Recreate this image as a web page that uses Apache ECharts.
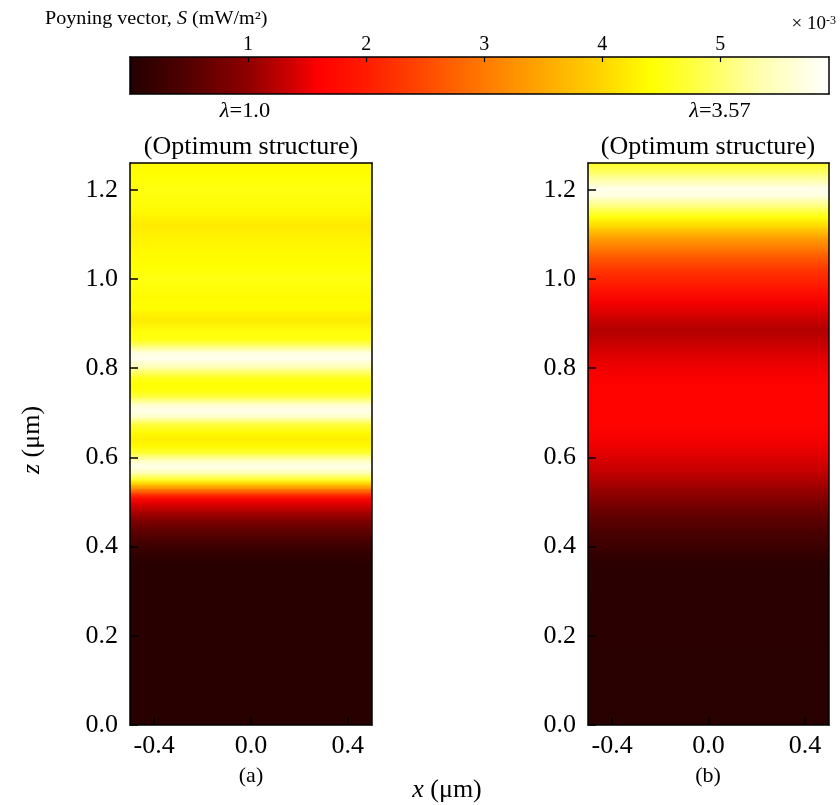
<!DOCTYPE html>
<html><head><meta charset="utf-8">
<script src="https://cdn.jsdelivr.net/npm/echarts@6/dist/echarts.min.js"></script>
<style>html,body{margin:0;padding:0;background:#fff}#c{width:840px;height:805px}</style>
</head><body><div id="c"></div>
<script>
// Colormap (value in 1e-3 mW/m^2 -> colour)
const cmapValues = [0.0, 0.5, 1.0, 1.4, 1.6, 2.0, 2.5, 3.0, 3.5, 4.0, 4.4, 4.8, 5.3, 5.92];
const cmapColors = ['#230000', '#540000', '#8e0000', '#d60000', '#ff0000', '#ff1c00', '#ff4a00', '#ff7a00', '#ffa800', '#ffd500', '#ffff00', '#ffff45', '#ffffa8', '#ffffff'];
const cbTicks = [1, 2, 3, 4, 5];
const xTicks = [-0.4, 0.0, 0.4];
const zTicksMax = 1.2;

// Panel (a): lambda = 1.0, Poynting vector profile along z
const zA = [0.00, 0.36, 0.38, 0.40, 0.42, 0.44, 0.46, 0.48, 0.50, 0.51, 0.52, 0.53, 0.54, 0.55, 0.565, 0.58, 0.595, 0.61, 0.625, 0.64, 0.655, 0.675, 0.69, 0.705, 0.72, 0.735, 0.75, 0.765, 0.78, 0.80, 0.82, 0.835, 0.85, 0.865, 0.88, 0.91, 0.935, 0.96, 0.98, 1.00, 1.03, 1.06, 1.09, 1.12, 1.15, 1.20, 1.23, 1.26];
const sA = [0.05, 0.06, 0.12, 0.25, 0.45, 0.65, 0.90, 1.20, 1.50, 1.80, 2.50, 3.20, 3.90, 4.60, 5.40, 5.80, 5.40, 4.70, 4.35, 4.25, 4.35, 4.80, 5.50, 5.80, 5.50, 4.80, 4.45, 4.40, 4.60, 5.30, 5.80, 5.70, 5.00, 4.50, 4.45, 4.20, 4.40, 4.35, 4.45, 4.50, 4.40, 4.35, 4.30, 4.20, 4.35, 4.50, 4.40, 4.35];

// Panel (b): lambda = 3.57
const zB = [0.00, 0.35, 0.372, 0.398, 0.432, 0.467, 0.50, 0.535, 0.569, 0.604, 0.638, 0.672, 0.758, 0.792, 0.826, 0.86, 0.886, 0.912, 0.946, 0.98, 1.023, 1.057, 1.092, 1.117, 1.139, 1.16, 1.186, 1.203, 1.237, 1.26];
const sB = [0.06, 0.07, 0.12, 0.25, 0.40, 0.60, 0.85, 1.10, 1.30, 1.45, 1.55, 1.65, 1.65, 1.55, 1.45, 1.30, 1.20, 1.35, 1.55, 1.90, 2.30, 2.80, 3.40, 4.00, 4.45, 5.00, 5.70, 5.80, 5.00, 4.60];

const X_MIN = -0.5, X_MAX = 0.5, Z_MAX = 1.26, CB_MAX = 5.92;
const FONT = '"Liberation Serif", "Times New Roman", serif';

function hex(h) { return [1, 3, 5].map(i => parseInt(h.substr(i, 2), 16)); }
function cmap(v) {
  if (v <= cmapValues[0]) return cmapColors[0];
  const n = cmapValues.length;
  if (v >= cmapValues[n - 1]) return cmapColors[n - 1];
  let i = 0;
  while (cmapValues[i + 1] < v) i++;
  const t = (v - cmapValues[i]) / (cmapValues[i + 1] - cmapValues[i]);
  const a = hex(cmapColors[i]), b = hex(cmapColors[i + 1]);
  return 'rgb(' + a.map((c, k) => Math.round(c + (b[k] - c) * t)).join(',') + ')';
}

function panelSeries(zs, vs, axisIdx) {
  return {
    type: 'custom', xAxisIndex: axisIdx, yAxisIndex: axisIdx, clip: true, silent: true,
    data: zs.slice(0, -1).map((z, i) => [z, zs[i + 1], vs[i], vs[i + 1]]),
    renderItem: function (params, api) {
      const a = api.coord([X_MIN, api.value(0)]);
      const b = api.coord([X_MAX, api.value(1)]);
      return {
        type: 'rect',
        shape: { x: a[0], y: b[1] - 0.5, width: b[0] - a[0], height: a[1] - b[1] + 1 },
        style: { fill: new echarts.graphic.LinearGradient(0, 0, 0, 1, [
          { offset: 0, color: cmap(api.value(3)) }, { offset: 1, color: cmap(api.value(2)) }]) }
      };
    }
  };
}

const cbSeries = {
  type: 'custom', xAxisIndex: 0, yAxisIndex: 0, clip: true, silent: true,
  data: cmapValues.slice(0, -1).map((v, i) => [v, cmapValues[i + 1]]),
  renderItem: function (params, api) {
    const a = api.coord([api.value(0), 0]);
    const b = api.coord([api.value(1), 1]);
    return {
      type: 'rect',
      shape: { x: a[0] - 0.3, y: b[1], width: b[0] - a[0] + 0.6, height: a[1] - b[1] },
      style: { fill: new echarts.graphic.LinearGradient(0, 0, 1, 0, [
        { offset: 0, color: cmap(api.value(0)) }, { offset: 1, color: cmap(api.value(1)) }]) }
    };
  }
};

const line = { show: true, onZero: false, lineStyle: { color: '#000', width: 1.5 } };
const none = { show: false };
function frameX(grid, pos, min, max) {
  return { gridIndex: grid, type: 'value', position: pos, min: min, max: max, axisLine: line, axisTick: none, axisLabel: none, splitLine: none, z: 10 };
}
function frameY(grid, pos, min, max) {
  return { gridIndex: grid, type: 'value', position: pos, min: min, max: max, axisLine: line, axisTick: none, axisLabel: none, splitLine: none, z: 10 };
}

const xAxes = [
  { gridIndex: 0, type: 'value', position: 'top', min: 0, max: CB_MAX,
    axisLine: line, splitLine: none, z: 10,
    axisTick: { inside: true, length: 5, customValues: cbTicks, lineStyle: { color: '#000', width: 1.2 } },
    axisLabel: { customValues: cbTicks, fontFamily: FONT, fontSize: 20, color: '#000', margin: 2 } },
  frameX(0, 'bottom', 0, CB_MAX)
];
const yAxes = [frameY(0, 'left', 0, 1), frameY(0, 'right', 0, 1)];
[1, 2].forEach(g => {
  xAxes.push({ gridIndex: g, type: 'value', position: 'bottom', min: X_MIN, max: X_MAX,
    axisLine: line, splitLine: none, z: 10,
    axisTick: { inside: true, length: 8, customValues: xTicks, lineStyle: { color: '#000', width: 1.5 } },
    axisLabel: { customValues: xTicks, formatter: v => v.toFixed(1), fontFamily: FONT, fontSize: 26, color: '#000', margin: 8 } });
  xAxes.push(frameX(g, 'top', X_MIN, X_MAX));
  yAxes.push({ gridIndex: g, type: 'value', position: 'left', min: 0, max: Z_MAX, interval: 0.2,
    axisLine: line, splitLine: none, z: 10,
    axisTick: { inside: true, length: 8, lineStyle: { color: '#000', width: 1.5 } },
    axisLabel: { formatter: v => (v <= zTicksMax + 1e-9 ? v.toFixed(1) : ''), showMaxLabel: false, fontFamily: FONT, fontSize: 26, color: '#000', margin: 12 } });
  yAxes.push(frameY(g, 'right', 0, Z_MAX));
});
// panel axes: grid 1 -> index 2, grid 2 -> index 4
const seriesA = panelSeries(zA, sA, 2);
const seriesB = panelSeries(zB, sB, 4);

function txt(x, y, rich, text, extra) {
  return Object.assign({ type: 'text', x: x, y: y, z: 100,
    style: { text: text, align: 'center', verticalAlign: 'middle', fill: '#000', rich: rich } }, extra || {});
}
const rich26 = { n: { fontFamily: FONT, fontSize: 26, color: '#000' }, i: { fontFamily: FONT, fontSize: 26, fontStyle: 'italic', color: '#000' } };
const rich22 = { n: { fontFamily: FONT, fontSize: 22, color: '#000' }, i: { fontFamily: FONT, fontSize: 22, fontStyle: 'italic', color: '#000' } };
const rich20 = { n: { fontFamily: FONT, fontSize: 20, color: '#000' }, i: { fontFamily: FONT, fontSize: 20, fontStyle: 'italic', color: '#000' } };

const option = {
  backgroundColor: '#fff',
  animation: false,
  grid: [
    { left: 130, top: 57, width: 699, height: 37 },
    { left: 130, top: 163, width: 242, height: 562 },
    { left: 588, top: 163, width: 241, height: 562 }
  ],
  xAxis: xAxes,
  yAxis: yAxes,
  series: [cbSeries, seriesA, seriesB],
  graphic: [
    { type: 'text', x: 45, y: 19, z: 100, scaleX: 1.12, style: { text: '{b|Poyning vector, }{bi|S}{b| (mW/m²)}', verticalAlign: 'middle',
      rich: { b: { fontFamily: FONT, fontSize: 18, color: '#000' }, bi: { fontFamily: FONT, fontSize: 18, fontStyle: 'italic', color: '#000' } } } },
    { type: 'text', x: 836, y: 24, z: 100, style: { text: '{a|× 10}{s|-3}', align: 'right', verticalAlign: 'middle',
      rich: { a: { fontFamily: FONT, fontSize: 19, color: '#000', verticalAlign: 'bottom' }, s: { fontFamily: FONT, fontSize: 12, color: '#000', verticalAlign: 'top' } } } },
    txt(245, 112, rich20, '{i|λ}{n|=1.0}', { scaleX: 1.12 }),
    txt(720, 112, rich20, '{i|λ}{n|=3.57}', { scaleX: 1.12 }),
    txt(251, 147, rich26, '{n|(Optimum structure)}'),
    txt(708, 147, rich26, '{n|(Optimum structure)}'),
    txt(251, 776, rich22, '{n|(a)}'),
    txt(708, 776, rich22, '{n|(b)}'),
    txt(447, 790, rich26, '{i|x}{n| (μm)}'),
    txt(32, 440, rich26, '{i|z}{n| (μm)}', { rotation: Math.PI / 2 })
  ]
};
echarts.init(document.getElementById('c')).setOption(option);
</script>
</body></html>
